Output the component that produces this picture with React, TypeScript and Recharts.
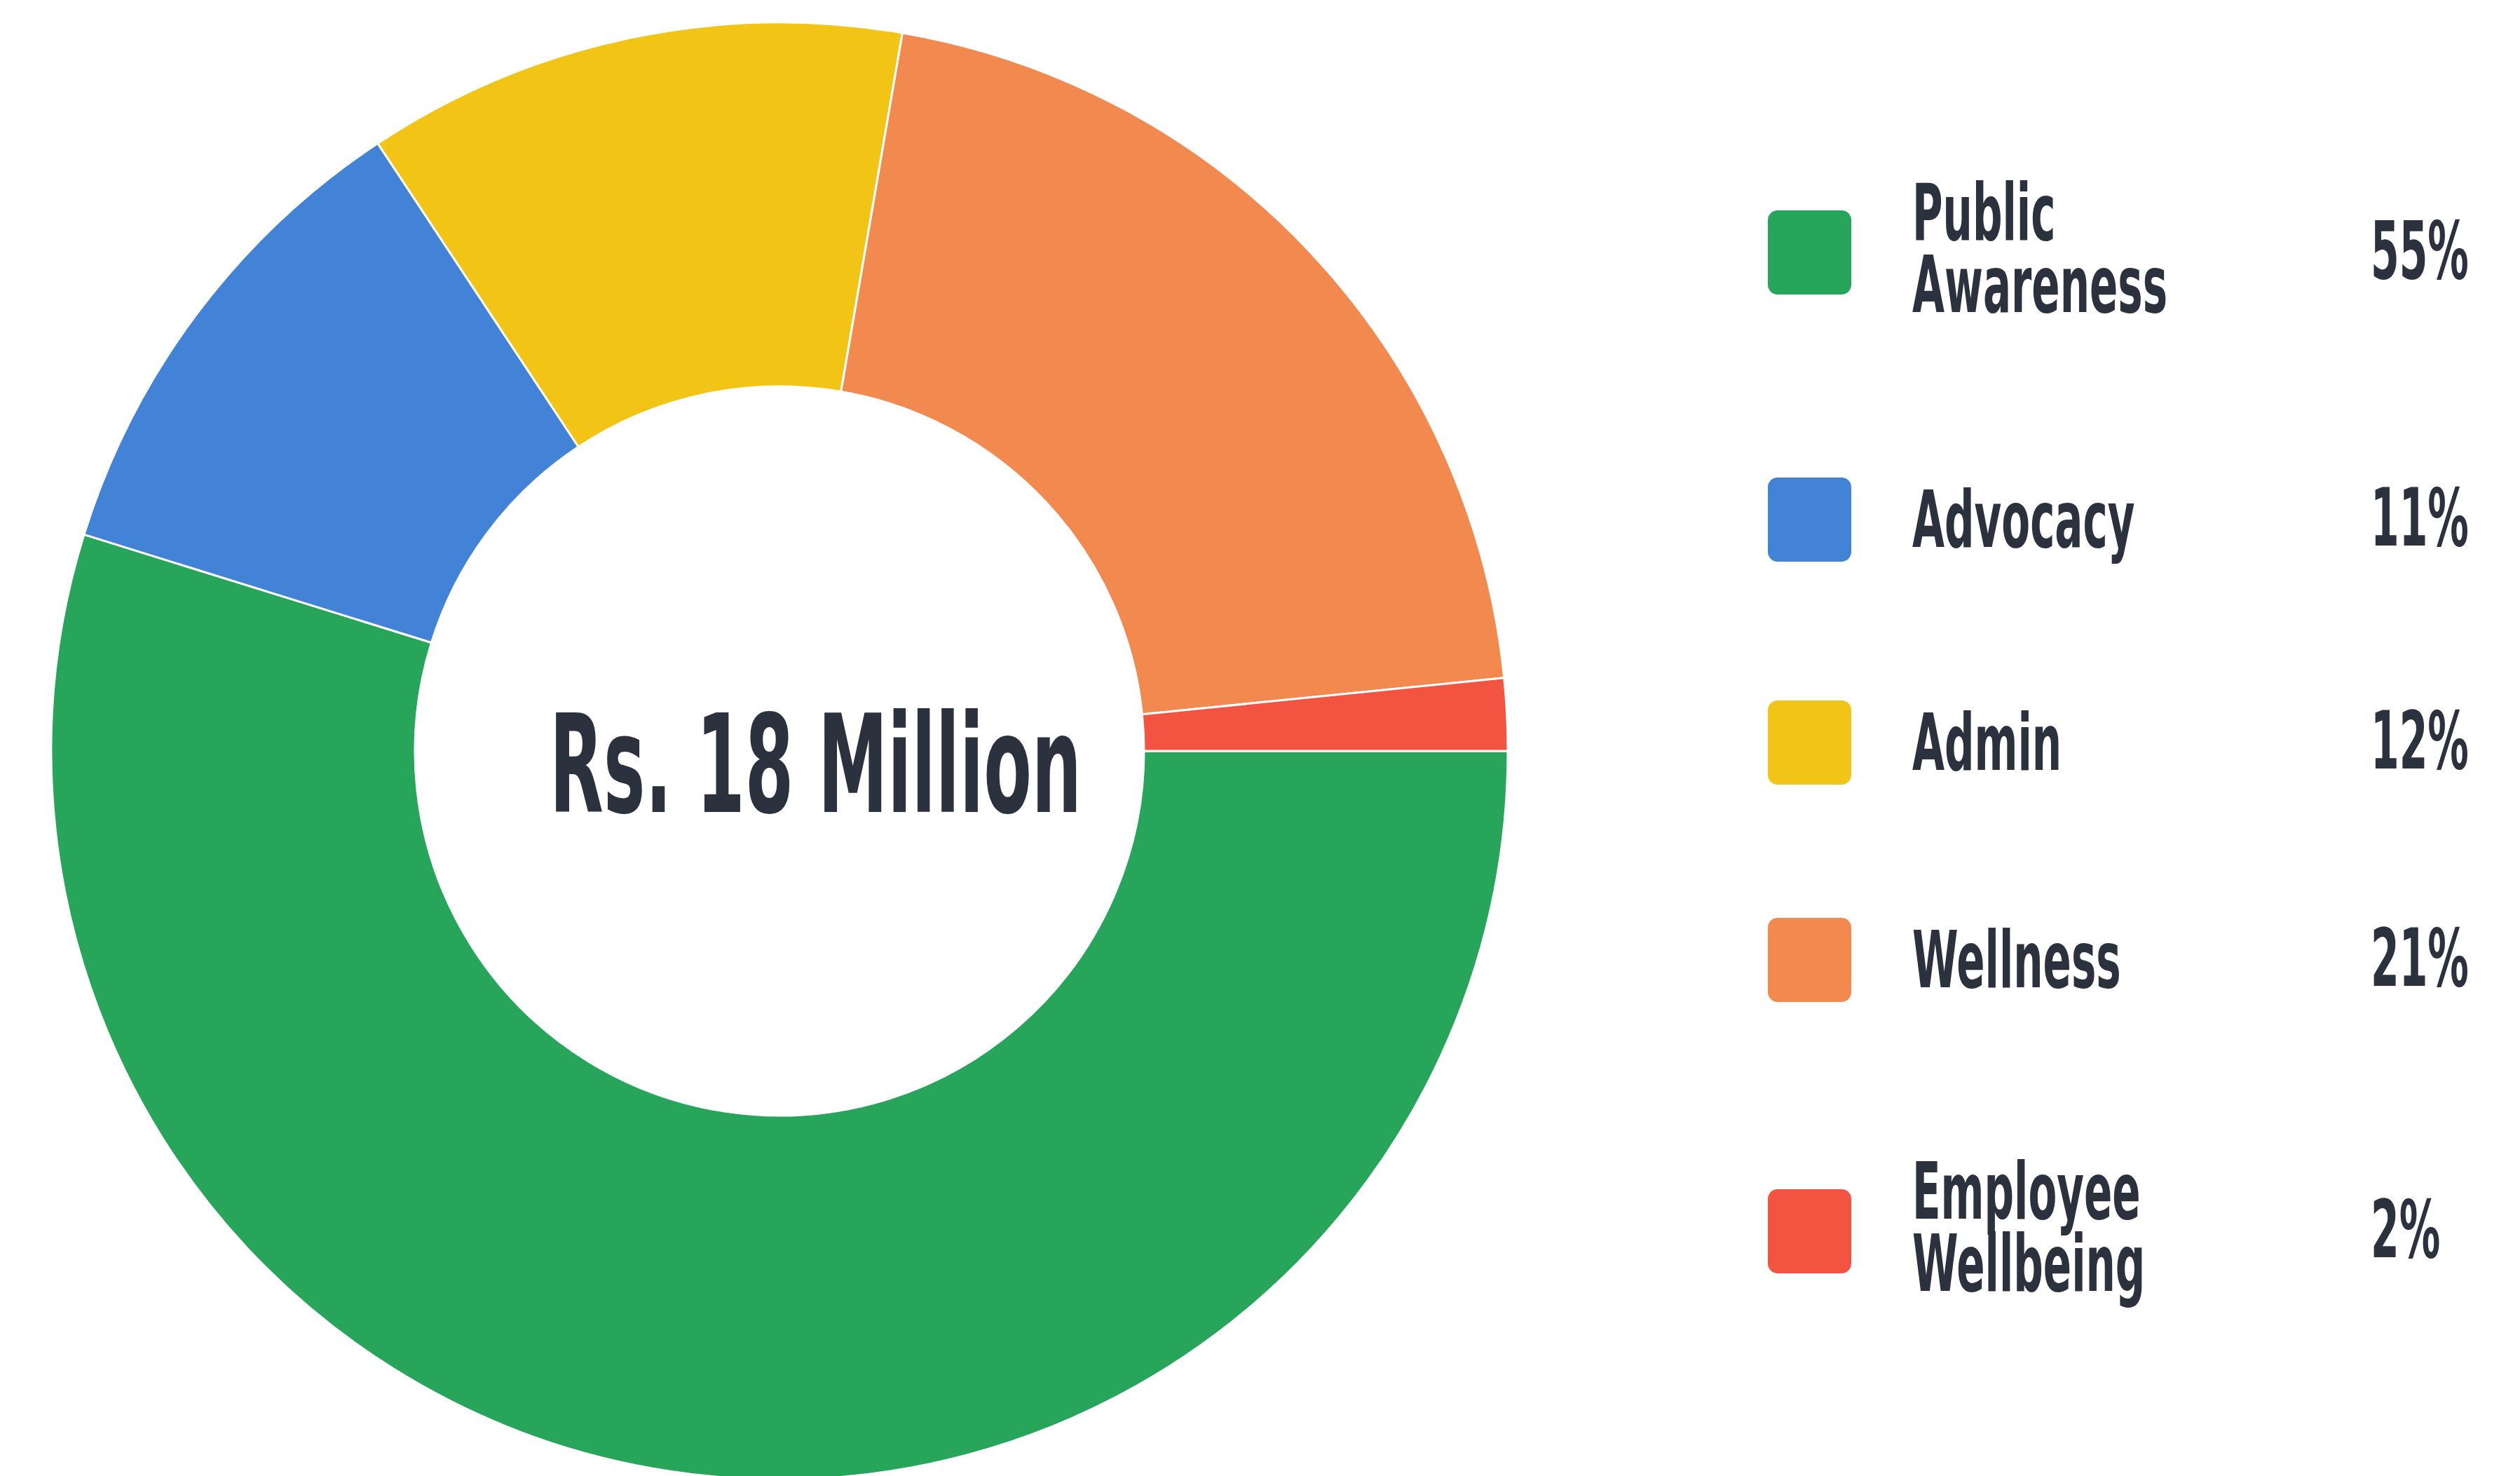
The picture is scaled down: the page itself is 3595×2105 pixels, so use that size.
import { PieChart, Pie, Cell, Legend } from "recharts";

const categories = ["Public Awareness", "Advocacy", "Admin", "Wellness", "Employee Wellbeing"];
const shares = [54.8, 10.9, 12.0, 20.7, 1.6];
const percentLabels = ["55%", "11%", "12%", "21%", "2%"];
const labelLines = [["Public", "Awareness"], ["Advocacy"], ["Admin"], ["Wellness"], ["Employee", "Wellbeing"]];
const totalLabel = "Rs. 18 Million";

const COLORS = ["#27a55b", "#4283d7", "#f2c416", "#f2894e", "#f35341"];
const TEXT = "#2b323e";
const FONT = "'DejaVu Sans Condensed', 'Liberation Sans Narrow', sans-serif";
const ROW_Y = [360, 741, 1059, 1369, 1756];

const data = categories.map((name, i) => ({ name, value: shares[i] }));

function Squeezed({ x, y, size, sx, children }: { x: number; y: number; size: number; sx: number; children: string }) {
  return (
    <text
      transform={`translate(${x} ${y}) scale(${sx} 1)`}
      fontFamily={FONT}
      fontWeight={700}
      fontSize={size}
      fill={TEXT}
    >
      {children}
    </text>
  );
}

function LegendBlock() {
  return (
    <svg width={1095} height={2105}>
      {categories.map((c, i) => {
        const cy = ROW_Y[i];
        const lines = labelLines[i];
        return (
          <g key={c}>
            <rect x={22} y={cy - 60} width={119} height={120} rx={14} fill={COLORS[i]} />
            {lines.length === 1 ? (
              <Squeezed x={228} y={cy + 39} size={112} sx={0.59}>{lines[0]}</Squeezed>
            ) : (
              lines.map((l, j) => (
                <Squeezed key={l} x={228} y={cy - 18 + j * 103} size={112} sx={0.59}>{l}</Squeezed>
              ))
            )}
            <Squeezed x={882} y={cy + 37} size={114} sx={0.57}>{percentLabels[i]}</Squeezed>
          </g>
        );
      })}
    </svg>
  );
}

export default function App() {
  return (
    <div style={{ position: "absolute", left: 0, top: 0, width: 3595, height: 2105, background: "#fff" }}>
      <PieChart width={3595} height={2105} margin={{ top: 0, right: 0, bottom: 0, left: 0 }}>
        <Pie
          data={data}
          dataKey="value"
          nameKey="name"
          cx={1112}
          cy={1071}
          innerRadius={520}
          outerRadius={1039}
          startAngle={0}
          endAngle={-360}
          stroke="#ffffff"
          strokeWidth={3}
          isAnimationActive={false}
        >
          {data.map((d, i) => (
            <Cell key={d.name} fill={COLORS[i]} />
          ))}
        </Pie>
        <Legend
          layout="vertical"
          align="right"
          verticalAlign="top"
          content={() => <LegendBlock />}
          wrapperStyle={{ position: "absolute", left: 2500, top: 0, width: 1095, height: 2105 }}
        />
      </PieChart>
      <svg
        width={3595}
        height={2105}
        style={{ position: "absolute", left: 0, top: 0, pointerEvents: "none" }}
      >
        <text
          x={784}
          y={1158}
          textLength={759}
          lengthAdjust="spacingAndGlyphs"
          fontFamily={FONT}
          fontWeight={700}
          fontSize={195}
          fill={TEXT}
        >
          {totalLabel}
        </text>
      </svg>
    </div>
  );
}
